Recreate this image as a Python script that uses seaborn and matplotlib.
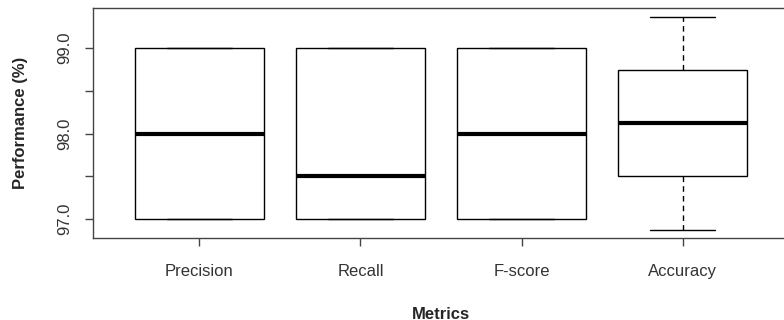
import numpy as np
import pandas as pd
import matplotlib
matplotlib.use("Agg")
import matplotlib.pyplot as plt
import seaborn as sns

metrics = ["Precision", "Recall", "F-score", "Accuracy"]
precision = [97.0, 97.0, 98.0, 99.0, 99.0]
recall = [97.0, 97.0, 97.0, 97.0, 98.0, 99.0, 99.0, 99.0]
fscore = [97.0, 97.0, 98.0, 99.0, 99.0]
accuracy = [96.87, 97.51, 98.12, 98.74, 99.36]
yticks = [97.0, 97.5, 98.0, 98.5, 99.0]
ytick_labels = ["97.0", "", "98.0", "", "99.0"]

rows = []
for name, vals in zip(metrics, [precision, recall, fscore, accuracy]):
    for v in vals:
        rows.append({"Metrics": name, "Performance": v})
df = pd.DataFrame(rows)

sns.set_style("white")
plt.rcParams["font.family"] = ["Liberation Sans", "DejaVu Sans"]

fig = plt.figure(figsize=(7.84, 3.2), dpi=100)
ax = fig.add_axes([93 / 784, 1 - 238 / 320, (789 - 93) / 784, (238 - 8) / 320])

sns.boxplot(
    data=df, x="Metrics", y="Performance", order=metrics, ax=ax,
    width=0.8, whis=1.5, color="white", linecolor="black", linewidth=1,
    fliersize=0,
    boxprops=dict(facecolor="white", edgecolor="black", linewidth=1),
    medianprops=dict(color="black", linewidth=3),
    whiskerprops=dict(color="black", linewidth=1, linestyle=(0, (4, 3))),
    capprops=dict(color="black", linewidth=1),
    capwidths=0.4,
)

ax.set_xlim(-0.66, 3.66)
ax.set_ylim(96.78, 99.47)
ax.set_yticks(yticks)
ax.set_yticklabels(ytick_labels, rotation=90, va="center", fontsize=12, color="#333333")
ax.set_xticks(range(len(metrics)))
ax.set_xticklabels(metrics, fontsize=12, color="#333333")
ax.tick_params(axis="both", length=6, width=1, color="#444444", direction="out",
               left=True, bottom=True)
ax.tick_params(axis="x", pad=12.5)
ax.tick_params(axis="y", pad=9)
for s in ax.spines.values():
    s.set_visible(True)
    s.set_color("#444444")
    s.set_linewidth(1)

ax.set_xlabel("Metrics", fontsize=12, fontweight="bold", labelpad=20.5)
ax.set_ylabel("Performance (%)", fontsize=12, fontweight="bold", labelpad=21)

fig.savefig("out.png", dpi=100)
